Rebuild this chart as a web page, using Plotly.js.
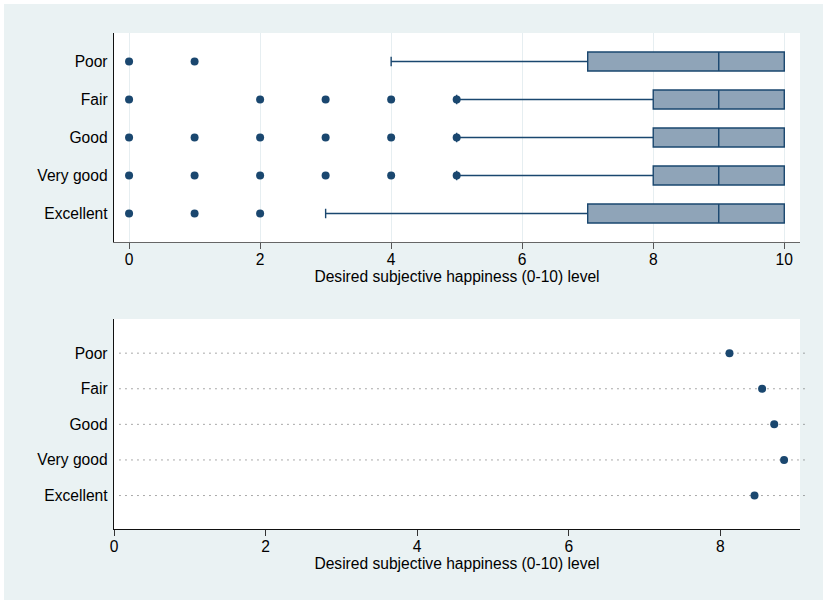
<!DOCTYPE html>
<html><head><meta charset="utf-8">
<script src="https://cdn.plot.ly/plotly-3.0.1.min.js"></script>
<style>html,body{margin:0;padding:0;background:#fff;} #chart{position:absolute;left:4px;top:4px;width:819px;height:596px;}</style>
</head><body><div id="chart"></div>
<script>
const categories = ["Poor", "Fair", "Good", "Very good", "Excellent"];
const boxQ1 = [7, 8, 8, 8, 7];
const boxMedian = [9, 9, 9, 9, 9];
const boxQ3 = [10, 10, 10, 10, 10];
const lowerWhisker = [4, 5, 5, 5, 3];
const upperWhisker = [10, 10, 10, 10, 10];
const outliersPoor = [0, 1];
const outliersFair = [0, 2, 3, 4, 5];
const outliersGood = [0, 1, 2, 3, 4, 5];
const outliersVeryGood = [0, 1, 2, 3, 4, 5];
const outliersExcellent = [0, 1, 2];
const meanHappiness = [8.12, 8.55, 8.71, 8.84, 8.45];
const xTicksTop = [0, 2, 4, 6, 8, 10];
const xTicksBottom = [0, 2, 4, 6, 8];
const axisTitle = "Desired subjective happiness (0-10) level";

const navy = "#1a476f";
const font = {family: "Liberation Sans, Arial, Helvetica, sans-serif", size: 15.6, color: "#000"};

const outlierLists = [outliersPoor, outliersFair, outliersGood, outliersVeryGood, outliersExcellent];
const outX = [], outY = [];
outlierLists.forEach((lst, i) => lst.forEach(v => { outX.push(v); outY.push(categories[i]); }));

const traces = [
  {
    type: "box", orientation: "h", xaxis: "x", yaxis: "y",
    y: categories, q1: boxQ1, median: boxMedian, q3: boxQ3,
    lowerfence: lowerWhisker, upperfence: upperWhisker,
    width: 0.5, whiskerwidth: 0.5, boxpoints: false,
    fillcolor: "#8fa4b8", line: {color: navy, width: 1.4},
    hoverinfo: "skip", showlegend: false
  },
  {
    type: "scatter", mode: "markers", xaxis: "x", yaxis: "y",
    x: outX, y: outY, marker: {color: navy, size: 8},
    hoverinfo: "skip", showlegend: false, cliponaxis: false
  },
  {
    type: "scatter", mode: "markers", xaxis: "x2", yaxis: "y2",
    x: meanHappiness, y: categories, marker: {color: navy, size: 8},
    hoverinfo: "skip", showlegend: false, cliponaxis: false
  }
];

const shapes = categories.map(c => ({
  type: "line", xref: "x2 domain", yref: "y2", x0: 0.008, x1: 1.0105, y0: c, y1: c,
  line: {color: "#555", width: 1, dash: "1px,5px"}, layer: "below"
}));

const layout = {
  width: 819, height: 596,
  margin: {l: 110, r: 23, t: 29, b: 71},
  paper_bgcolor: "#eaf2f3", plot_bgcolor: "#ffffff",
  font: font,
  showlegend: false,
  shapes: shapes,
  xaxis: {
    domain: [0, 1], anchor: "y", range: [-0.23, 10.24],
    tickvals: xTicksTop, ticktext: xTicksTop.map(String),
    ticks: "outside", ticklen: 6, tickcolor: "#555", tickwidth: 1,
    showgrid: true, gridcolor: "#e6eef1", gridwidth: 1, zeroline: false,
    showline: true, linecolor: "#666", linewidth: 1.3,
    ticklabelstandoff: -3,
    title: {text: axisTitle, font: font, standoff: 1},
    automargin: false, tickfont: font
  },
  yaxis: {
    domain: [0.5786, 1], anchor: "x", type: "category",
    categoryorder: "array", categoryarray: categories,
    range: [4.75, -0.75], ticks: "", showgrid: false, zeroline: false,
    showline: true, linecolor: "#111", linewidth: 1.3,
    ticklabelstandoff: 2, automargin: false, tickfont: font
  },
  xaxis2: {
    domain: [0, 1], anchor: "y2", range: [0, 9.05],
    tickvals: xTicksBottom, ticktext: xTicksBottom.map(String),
    ticks: "outside", ticklen: 6, tickcolor: "#333", tickwidth: 1,
    showgrid: false, zeroline: false,
    showline: true, linecolor: "#111", linewidth: 1.3,
    ticklabelstandoff: -3,
    title: {text: axisTitle, font: font, standoff: 1},
    automargin: false, tickfont: font
  },
  yaxis2: {
    domain: [0, 0.4234], anchor: "x2", type: "category",
    categoryorder: "array", categoryarray: categories,
    range: [4.94, -0.96], ticks: "", showgrid: false, zeroline: false,
    showline: true, linecolor: "#111", linewidth: 1.3,
    ticklabelstandoff: 2, automargin: false, tickfont: font
  }
};

Plotly.newPlot("chart", traces, layout, {displayModeBar: false, staticPlot: true});
</script>
</body></html>
